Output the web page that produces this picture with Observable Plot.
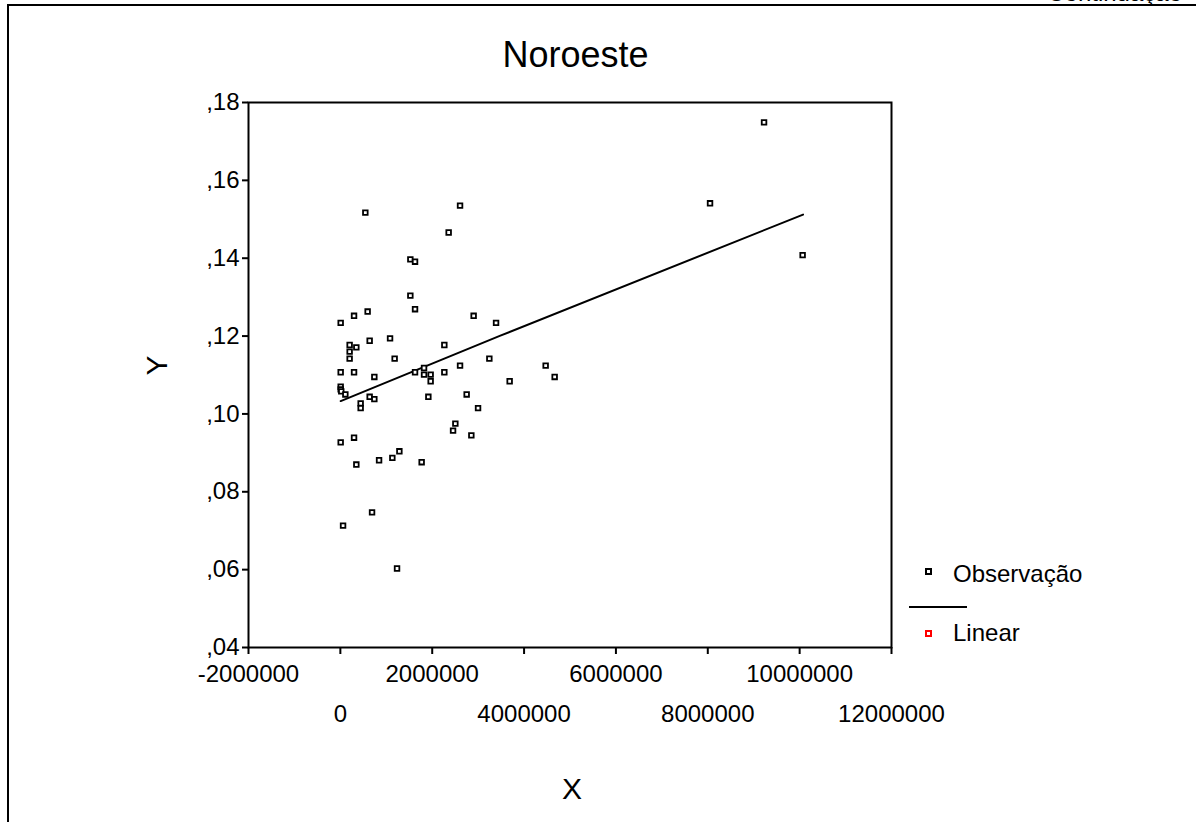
<!DOCTYPE html>
<html>
<head>
<meta charset="utf-8">
<script src="https://cdn.jsdelivr.net/npm/d3@7"></script>
<script src="https://cdn.jsdelivr.net/npm/@observablehq/plot@0.6"></script>
<style>
  html, body { margin: 0; padding: 0; background: white; }
  #wrap { position: relative; width: 1196px; height: 822px; overflow: hidden; background: white;
          font-family: "Liberation Sans", Arial, sans-serif; color: black; }
  #wrap svg { position: absolute; left: 0; top: 0; }
  .abs { position: absolute; white-space: nowrap; }
  .txt { font-size: 24px; line-height: 24px; }
</style>
</head>
<body>
<div id="wrap"></div>
<script>
// ---- Data ----
const obsX = [
  9225000, 8049000, 10065000, 2606000, 544000, 2358000, 1524000, 1626000, 1524000, 1626000,
  298000, 594000, 7000, 2902000, 3390000, 638000, 1082000, 202000, 348000, 202000,
  202000, 2264000, 1182000, 3244000, 7000, 298000, 1626000, 1822000, 1822000, 1966000,
  1966000, 2264000, 2606000, 740000, 3686000, 7000, 7000, 20000, 109000, 638000,
  740000, 442000, 442000, 1916000, 2750000, 2998000, 2504000, 2454000, 2852000, 7000,
  298000, 348000, 843000, 1132000, 1285000, 1770000, 690000, 59000, 1234000, 4470000,
  4666000
];
const obsY = [
  0.1749, 0.1541, 0.1408, 0.1535, 0.1517, 0.1466, 0.1397, 0.1391, 0.1304, 0.1269,
  0.1252, 0.1263, 0.1234, 0.1252, 0.1234, 0.1188, 0.1194, 0.1177, 0.1171, 0.1160,
  0.1142, 0.1177, 0.1142, 0.1142, 0.1107, 0.1107, 0.1107, 0.1118, 0.1101, 0.1101,
  0.1084, 0.1107, 0.1124, 0.1095, 0.1084, 0.1070, 0.1063, 0.1058, 0.1050, 0.1044,
  0.1038, 0.1027, 0.1015, 0.1044, 0.1050, 0.1015, 0.0975, 0.0957, 0.0945, 0.0927,
  0.0939, 0.0870, 0.0881, 0.0887, 0.0904, 0.0876, 0.0747, 0.0713, 0.0603, 0.1124,
  0.1095
];
// Linear fit line
const lineX = [7000, 3484000, 10074000];
const lineY = [0.1033, 0.1201, 0.1512];

const xTicksAll = [-2000000, 0, 2000000, 4000000, 6000000, 8000000, 10000000, 12000000];
const xTicksRow1 = [-2000000, 2000000, 6000000, 10000000];
const xTicksRow2 = [0, 4000000, 8000000, 12000000];
const yTicks = [0.04, 0.06, 0.08, 0.10, 0.12, 0.14, 0.16, 0.18];

const titleText = "Noroeste";
const xLabel = "X";
const yLabel = "Y";
const legendLabels = ["Observação", "Linear"];
const cornerText = "Continuação";

// ---- Build tables ----
const obs = obsX.map((x, i) => ({x, y: obsY[i]}));
const fit = lineX.map((x, i) => ({x, y: lineY[i]}));

const yFmt = d => d3.format(".2f")(d).replace(/^0/, "").replace(".", ",");
const xFmt = d => String(d);

const chart = Plot.plot({
  width: 1196,
  height: 822,
  marginLeft: 248,
  marginRight: 305,
  marginTop: 102,
  marginBottom: 175,
  style: {fontFamily: "'Liberation Sans', Arial, sans-serif", fontSize: "24px", color: "black", background: "white"},
  x: {domain: [-2000000, 12000000]},
  y: {domain: [0.04, 0.18]},
  marks: [
    Plot.frame({stroke: "black", strokeWidth: 2}),
    Plot.axisY(yTicks, {tickSize: 6, tickPadding: 3, strokeWidth: 2, tickFormat: yFmt, label: null, fontSize: 24}),
    Plot.axisX(xTicksAll, {tickSize: 7, strokeWidth: 2, text: null, label: null}),
    Plot.axisX(xTicksRow1, {tickSize: 0, tickPadding: 17, tickFormat: xFmt, label: null, fontSize: 24}),
    Plot.axisX(xTicksRow2, {tickSize: 0, tickPadding: 57, tickFormat: xFmt, label: null, fontSize: 24}),
    Plot.line(fit, {x: "x", y: "y", stroke: "black", strokeWidth: 2}),
    Plot.dot(obs, {x: "x", y: "y", symbol: "square", r: 2.6, stroke: "black", fill: "white", strokeWidth: 1.8}),
    Plot.text([titleText], {frameAnchor: "top", dx: 5.5, dy: -47, fontSize: 36, lineAnchor: "middle"}),
    Plot.text([xLabel], {frameAnchor: "bottom", dx: 2, dy: 142, fontSize: 30, lineAnchor: "middle"}),
    Plot.text([yLabel], {frameAnchor: "left", dx: -91, dy: 0.5, fontSize: 30, rotate: -90, lineAnchor: "middle"})
  ]
});

const wrap = document.getElementById("wrap");
wrap.appendChild(chart);

// Outer border (left and top lines of the surrounding box)
const border = document.createElement("div");
border.className = "abs";
Object.assign(border.style, {left: "7px", top: "4px", width: "2000px", height: "2000px",
  borderLeft: "2px solid black", borderTop: "2px solid black", boxSizing: "border-box"});
wrap.appendChild(border);

// Corner text (cut off at the top, as in the reference)
const corner = document.createElement("div");
corner.className = "abs";
corner.textContent = cornerText;
Object.assign(corner.style, {right: "14px", top: "-19px", fontSize: "24px", lineHeight: "24px"});
wrap.appendChild(corner);

// Legend
function sq(cx, cy, color) {
  const d = document.createElement("div");
  d.className = "abs";
  Object.assign(d.style, {left: (cx - 3.5) + "px", top: (cy - 3.5) + "px", width: "7px", height: "7px",
    boxSizing: "border-box", border: "2px solid " + color, background: "white"});
  wrap.appendChild(d);
}
function label(text, left, capCenter) {
  const d = document.createElement("div");
  d.className = "abs txt";
  d.textContent = text;
  Object.assign(d.style, {left: left + "px", top: (capCenter - 0.4885 * 24) + "px"});
  wrap.appendChild(d);
}
sq(928.5, 571, "black");
label(legendLabels[0], 953, 574);
const lg = document.createElement("div");
lg.className = "abs";
Object.assign(lg.style, {left: "909px", top: "605.5px", width: "58px", height: "2px", background: "black"});
wrap.appendChild(lg);
sq(928.5, 633, "red");
label(legendLabels[1], 953, 633);
</script>
</body>
</html>
